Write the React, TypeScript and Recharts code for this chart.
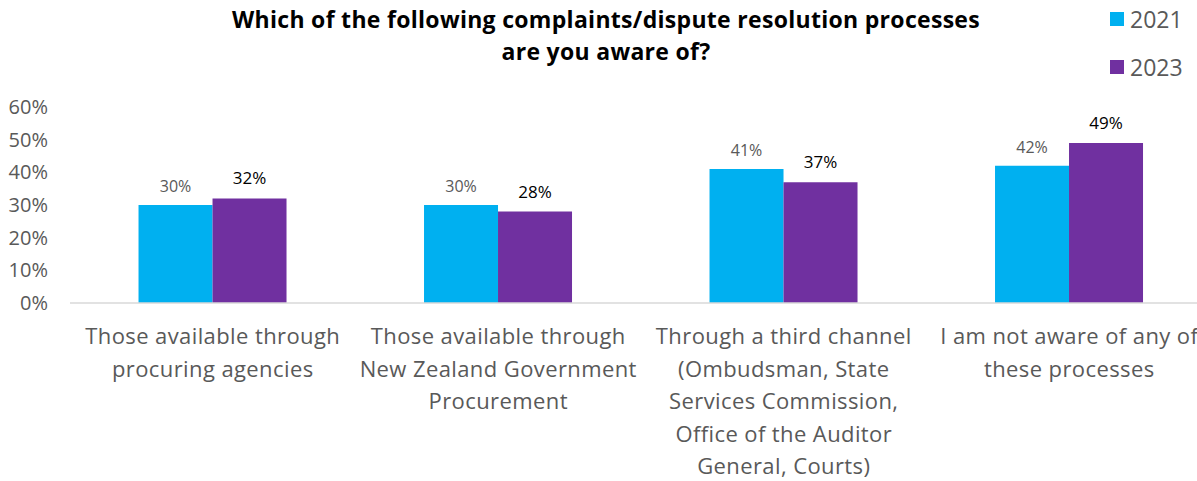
import { BarChart, Bar, XAxis, YAxis, LabelList } from "recharts";

const categories = [
  "Those available through procuring agencies",
  "Those available through New Zealand Government Procurement",
  "Through a third channel (Ombudsman, State Services Commission, Office of the Auditor General, Courts)",
  "I am not aware of any of these processes",
];

// how each category label wraps in the original
const categoryLines = [
  ["Those available through", "procuring agencies"],
  ["Those available through", "New Zealand Government", "Procurement"],
  ["Through a third channel", "(Ombudsman, State", "Services Commission,", "Office of the Auditor", "General, Courts)"],
  ["I am not aware of any of", "these processes"],
];

const values2021 = [30, 30, 41, 42];
const values2023 = [32, 28, 37, 49];
const yTicks = [0, 10, 20, 30, 40, 50, 60];
const seriesNames = ["2021", "2023"];

const FONT = "'Open Sans', Lato, sans-serif";
const BLUE = "#00B0F0";
const PURPLE = "#7030A0";

const data = categories.map((name, i) => ({
  name,
  y2021: values2021[i],
  y2023: values2023[i],
}));

// eslint-disable-next-line @typescript-eslint/no-explicit-any
function CategoryTick({ x, y, payload }: any) {
  const lines = categoryLines[payload.index] ?? [payload.value];
  return (
    <text x={x} y={y} textAnchor="middle" fill="#595959" fontSize={22} letterSpacing={0.4} fontFamily={FONT}>
      {lines.map((l: string, i: number) => (
        <tspan key={i} x={x} dy={i === 0 ? 33 : 32.5}>
          {l}
        </tspan>
      ))}
    </text>
  );
}

export default function App() {
  const colors = [BLUE, PURPLE];
  return (
    <div style={{ position: "absolute", left: 0, top: 0, width: 1197, height: 481, overflow: "hidden", background: "#fff" }}>
      <div
        style={{
          position: "absolute",
          left: 0,
          width: 1212,
          top: 3,
          textAlign: "center",
          fontFamily: FONT,
          fontWeight: 700,
          fontSize: 23,
          letterSpacing: 0.3,
          lineHeight: "32px",
          color: "#000",
          zIndex: 2,
        }}
      >
        Which of the following complaints/dispute resolution processes
        <br />
        are you aware of?
      </div>
      <div style={{ position: "absolute", left: 1110, top: 0, fontFamily: FONT, zIndex: 2 }}>
        {seriesNames.map((s, i) => (
          <div key={s} style={{ display: "flex", alignItems: "center", height: 48, marginTop: i === 0 ? -5 : 0 }}>
            <div style={{ width: 14, height: 14, background: colors[i], marginRight: 6 }} />
            <span style={{ fontSize: 23, color: "#595959" }}>{s}</span>
          </div>
        ))}
      </div>
      <BarChart
        width={1240}
        height={481}
        data={data}
        margin={{ top: 107, right: 28, left: 0, bottom: 0 }}
        barCategoryGap="24%"
        barGap={0}
      >
        <XAxis
          dataKey="name"
          tick={<CategoryTick />}
          tickLine={false}
          axisLine={{ stroke: "#D9D9D9", strokeWidth: 1.5 }}
          height={178}
          interval={0}
        />
        <YAxis
          domain={[0, 60]}
          ticks={yTicks}
          width={70}
          axisLine={false}
          tickLine={false}
          tickSize={0}
          tickMargin={22}
          tickFormatter={(v) => `${v}%`}
          tick={{ fontSize: 20, fill: "#595959", fontFamily: FONT }}
        />
        <Bar dataKey="y2021" name={seriesNames[0]} fill={BLUE} isAnimationActive={false}>
          <LabelList
            dataKey="y2021"
            position="top"
            offset={13}
            formatter={(v: number) => `${v}%`}
            style={{ fontSize: 16, fill: "#595959", fontFamily: FONT }}
          />
        </Bar>
        <Bar dataKey="y2023" name={seriesNames[1]} fill={PURPLE} isAnimationActive={false}>
          <LabelList
            dataKey="y2023"
            position="top"
            offset={14}
            formatter={(v: number) => `${v}%`}
            style={{ fontSize: 17, fill: "#000", fontFamily: FONT }}
          />
        </Bar>
      </BarChart>
    </div>
  );
}
